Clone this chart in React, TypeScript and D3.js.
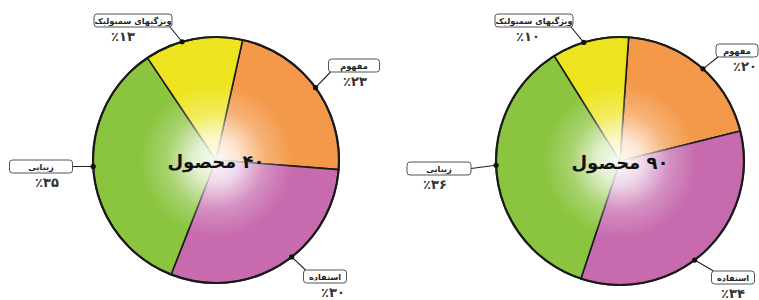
import React from 'react'
import * as d3 from 'd3'

// categories in clockwise order, starting from the top
const categories = ['مفهوم', 'استفاده', 'زیبایی', 'ویژگیهای سمبولیک']
const colors = ['#F4994A', '#C76BAE', '#8BC43F', '#EDE41F']

const leftTitle = '۴۰ محصول'
const leftValues = [23, 30, 35, 13]
const leftPercentLabels = ['٪۲۳', '٪۳۰', '٪۳۵', '٪۱۳']

const rightTitle = '۹۰ محصول'
const rightValues = [20, 34, 36, 10]
const rightPercentLabels = ['٪۲۰', '٪۳۴', '٪۳۶', '٪۱۰']

type Box = { x: number; y: number; w: number; angle: number; dx: number }

const FONT = "'DejaVu Sans', sans-serif"
const BOX_H = 13

const PieBlock: React.FC<{
  id: string
  cx: number
  cy: number
  r: number
  start: number
  title: string
  values: number[]
  percents: string[]
  boxes: Box[]
}> = ({ id, cx, cy, r, start, title, values, percents, boxes }) => {
  const startRad = (start * Math.PI) / 180
  const pie = d3
    .pie<number>()
    .sort(null)
    .value((d) => d)
    .startAngle(startRad)
    .endAngle(startRad + Math.PI * 2)
  const arcs = pie(values)
  const arc = d3.arc<d3.PieArcDatum<number>>().innerRadius(0).outerRadius(r)

  return (
    <g>
      <defs>
        <radialGradient id={`glow-${id}`} cx="50%" cy="50%" r="50%">
          <stop offset="0%" stopColor="#fff" stopOpacity={0.95} />
          <stop offset="18%" stopColor="#fff" stopOpacity={0.75} />
          <stop offset="40%" stopColor="#fff" stopOpacity={0.25} />
          <stop offset="62%" stopColor="#fff" stopOpacity={0} />
        </radialGradient>
      </defs>
      <g transform={`translate(${cx},${cy})`}>
        {arcs.map((a, i) => (
          <path
            key={i}
            d={arc(a) || ''}
            fill={colors[i]}
            stroke="#1a1a1a"
            strokeWidth={1.6}
            strokeLinejoin="round"
          />
        ))}
        <circle r={r} fill={`url(#glow-${id})`} />
        <circle r={r} fill="none" stroke="#1a1a1a" strokeWidth={2.2} />
        <text
          y={8}
          textAnchor="middle"
          fontFamily={FONT}
          fontWeight="bold"
          fontSize={18}
          fill="#111"
          style={{ direction: 'rtl', unicodeBidi: 'embed' } as any}
        >
          {title}
        </text>
      </g>
      {boxes.map((b, i) => {
        const ang = (b.angle * Math.PI) / 180
        const px = cx + r * Math.sin(ang)
        const py = cy - r * Math.cos(ang)
        const bx0 = b.x - b.w / 2
        const bx1 = b.x + b.w / 2
        const by0 = b.y
        const by1 = b.y + BOX_H
        // leader line ends on the box edge nearest the dot
        let ex: number
        let ey: number
        if (py >= by0 && py <= by1) {
          ex = px < bx0 ? bx0 : bx1
          ey = (by0 + by1) / 2
        } else {
          ey = py < by0 ? by0 : by1
          ex = Math.max(bx0 + 2, Math.min(bx1 - 2, px))
        }
        return (
          <g key={i}>
            <line x1={px} y1={py} x2={ex} y2={ey} stroke="#222" strokeWidth={1.1} />
            <circle cx={px} cy={py} r={2.6} fill="#111" />
            <rect
              x={bx0}
              y={by0}
              width={b.w}
              height={BOX_H}
              rx={3}
              fill="#fff"
              stroke="#555"
              strokeWidth={1}
            />
            <text
              x={b.x}
              y={by0 + 9.5}
              textAnchor="middle"
              fontFamily={FONT}
              fontWeight="bold"
              fontSize={8.2}
              fill="#222"
              style={{ direction: 'rtl', unicodeBidi: 'embed' } as any}
            >
              {categories[i]}
            </text>
            <text
              x={b.x + b.dx}
              y={by0 + 27}
              textAnchor="middle"
              fontFamily={FONT}
              fontWeight="bold"
              fontSize={13}
              fill="#333"
            >
              {percents[i]}
            </text>
          </g>
        )
      })}
    </g>
  )
}

const App: React.FC = () => {
  return (
    <svg
      width={759}
      height={300}
      style={{ position: 'absolute', left: 0, top: 0, background: '#fff' }}
    >
      <PieBlock
        id="l"
        cx={216}
        cy={160}
        r={123}
        start={12.5}
        title={leftTitle}
        values={leftValues}
        percents={leftPercentLabels}
        boxes={[
          { x: 354, y: 59, w: 51, angle: 54, dx: 1 },
          { x: 325, y: 270, w: 43, angle: 142, dx: 8 },
          { x: 41, y: 160, w: 63, angle: 267, dx: 6 },
          { x: 133, y: 14, w: 78, angle: -16, dx: -10 },
        ]}
      />
      <PieBlock
        id="r"
        cx={620}
        cy={161}
        r={124}
        start={4}
        title={rightTitle}
        values={rightValues}
        percents={rightPercentLabels}
        boxes={[
          { x: 737, y: 44, w: 42, angle: 42, dx: 8 },
          { x: 733, y: 271, w: 43, angle: 143, dx: 0 },
          { x: 439, y: 162, w: 64, angle: 268, dx: -4 },
          { x: 534, y: 14, w: 78, angle: -17, dx: -6 },
        ]}
      />
    </svg>
  )
}

export default App
